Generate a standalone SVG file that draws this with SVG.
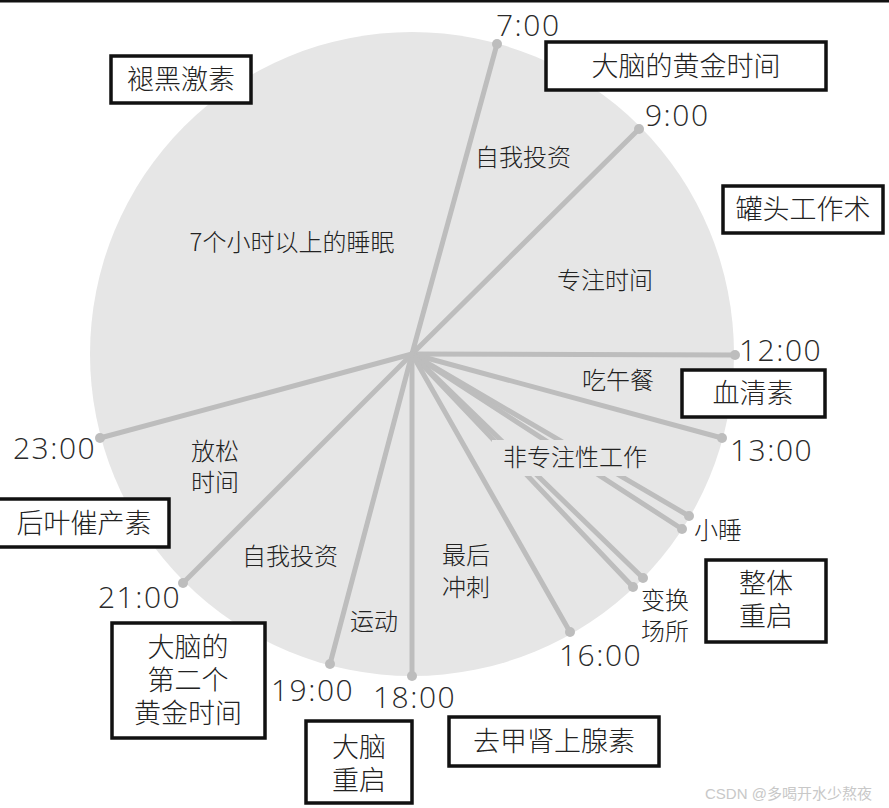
<svg xmlns="http://www.w3.org/2000/svg" width="889" height="808" viewBox="0 0 889 808">
<style>
.ray{stroke:#bdbdbd;stroke-width:5;stroke-linecap:round;fill:none}
.dot{fill:#bdbdbd}
.box{fill:#fff;stroke:#111;stroke-width:3.5}
.t{font-family:"Noto Sans CJK SC","Noto Sans",sans-serif;fill:#222;text-anchor:middle;font-weight:300}
.lbl{font-size:24px}
.bt{font-size:27px}
.num{font-family:"Open Sans","Liberation Sans",sans-serif;font-size:30px;fill:#2a2a2a;letter-spacing:1.5px;font-weight:300}
</style>
<rect x="0" y="0" width="889" height="808" fill="#fff"/>
<rect x="0" y="0" width="889" height="2.5" fill="#111"/>
<circle id="clock" cx="412" cy="354" r="322" fill="#e6e6e6"/>
<g id="connectors">
<line class="ray" x1="412" y1="354" x2="497" y2="44"/>
<line class="ray" x1="412" y1="354" x2="639" y2="129"/>
<line class="ray" x1="412" y1="354" x2="735" y2="355"/>
<line class="ray" x1="412" y1="354" x2="722" y2="438"/>
<line class="ray" x1="412" y1="354" x2="689" y2="516"/>
<line class="ray" x1="412" y1="354" x2="682" y2="529"/>
<line class="ray" x1="412" y1="354" x2="643" y2="578"/>
<line class="ray" x1="412" y1="354" x2="633" y2="587"/>
<line class="ray" x1="412" y1="354" x2="570" y2="632"/>
<line class="ray" x1="412" y1="354" x2="412" y2="676"/>
<line class="ray" x1="412" y1="354" x2="330" y2="664"/>
<line class="ray" x1="412" y1="354" x2="183" y2="583"/>
<line class="ray" x1="412" y1="354" x2="100" y2="438"/>
<circle class="dot" cx="497" cy="44" r="5"/>
<circle class="dot" cx="639" cy="129" r="5"/>
<circle class="dot" cx="735" cy="355" r="5"/>
<circle class="dot" cx="722" cy="438" r="5"/>
<circle class="dot" cx="689" cy="516" r="5"/>
<circle class="dot" cx="682" cy="529" r="5"/>
<circle class="dot" cx="643" cy="578" r="5"/>
<circle class="dot" cx="633" cy="587" r="5"/>
<circle class="dot" cx="570" cy="632" r="5"/>
<circle class="dot" cx="412" cy="676" r="5"/>
<circle class="dot" cx="330" cy="664" r="5"/>
<circle class="dot" cx="183" cy="583" r="5"/>
<circle class="dot" cx="100" cy="438" r="5"/>
</g>
<g id="times">
<text class="num" x="496" y="36">7:00</text>
<text class="num" x="645" y="126">9:00</text>
<text class="num" x="739" y="361">12:00</text>
<text class="num" x="730" y="461">13:00</text>
<text class="num" x="559" y="666">16:00</text>
<text class="num" x="373" y="708">18:00</text>
<text class="num" x="271" y="701">19:00</text>
<text class="num" x="98" y="608">21:00</text>
<text class="num" x="13" y="459">23:00</text>
</g>
<g id="segment-labels">
<text class="t lbl" x="523" y="166">自我投资</text>
<text class="t lbl" x="292" y="251">7个小时以上的睡眠</text>
<text class="t lbl" x="605" y="289">专注时间</text>
<text class="t lbl" x="618" y="389">吃午餐</text>
<rect x="492" y="440" width="166" height="36" fill="#e6e6e6"/>
<text class="t lbl" x="575" y="466">非专注性工作</text>
<text class="t lbl" x="718" y="539">小睡</text>
<text class="t lbl" x="665" y="609">变换</text>
<text class="t lbl" x="665" y="640">场所</text>
<text class="t lbl" x="215" y="460">放松</text>
<text class="t lbl" x="215" y="491">时间</text>
<text class="t lbl" x="290" y="565">自我投资</text>
<text class="t lbl" x="466" y="564">最后</text>
<text class="t lbl" x="466" y="596">冲刺</text>
<text class="t lbl" x="374" y="630">运动</text>
</g>
<g id="box-melatonin"><rect class="box" x="111" y="56" width="140" height="47"/><text class="t bt" x="181" y="89">褪黑激素</text></g>
<g id="box-golden"><rect class="box" x="546" y="42" width="280" height="48"/><text class="t bt" x="686" y="76">大脑的黄金时间</text></g>
<g id="box-canned"><rect class="box" x="723" y="186" width="160" height="47"/><text class="t bt" x="803" y="219">罐头工作术</text></g>
<g id="box-serotonin"><rect class="box" x="682" y="370" width="143" height="47"/><text class="t bt" x="753" y="403">血清素</text></g>
<g id="box-oxytocin"><rect class="box" x="-2" y="499" width="171" height="48"/><text class="t bt" x="84" y="533">后叶催产素</text></g>
<g id="box-reset"><rect class="box" x="706" y="560" width="120" height="82"/><text class="t bt" x="766" y="593">整体</text><text class="t bt" x="766" y="626">重启</text></g>
<g id="box-second-golden"><rect class="box" x="112" y="623" width="153" height="115"/><text class="t bt" x="188" y="657">大脑的</text><text class="t bt" x="188" y="690">第二个</text><text class="t bt" x="188" y="723">黄金时间</text></g>
<g id="box-brain-reset"><rect class="box" x="306" y="721" width="106" height="82"/><text class="t bt" x="359" y="757">大脑</text><text class="t bt" x="359" y="790">重启</text></g>
<g id="box-noradrenaline"><rect class="box" x="449" y="717" width="210" height="49"/><text class="t bt" x="554" y="751">去甲肾上腺素</text></g>
<text x="705" y="799" font-family="Liberation Sans,Noto Sans CJK SC,sans-serif" font-size="15" fill="#c8c8c8">CSDN @多喝开水少熬夜</text>
</svg>
